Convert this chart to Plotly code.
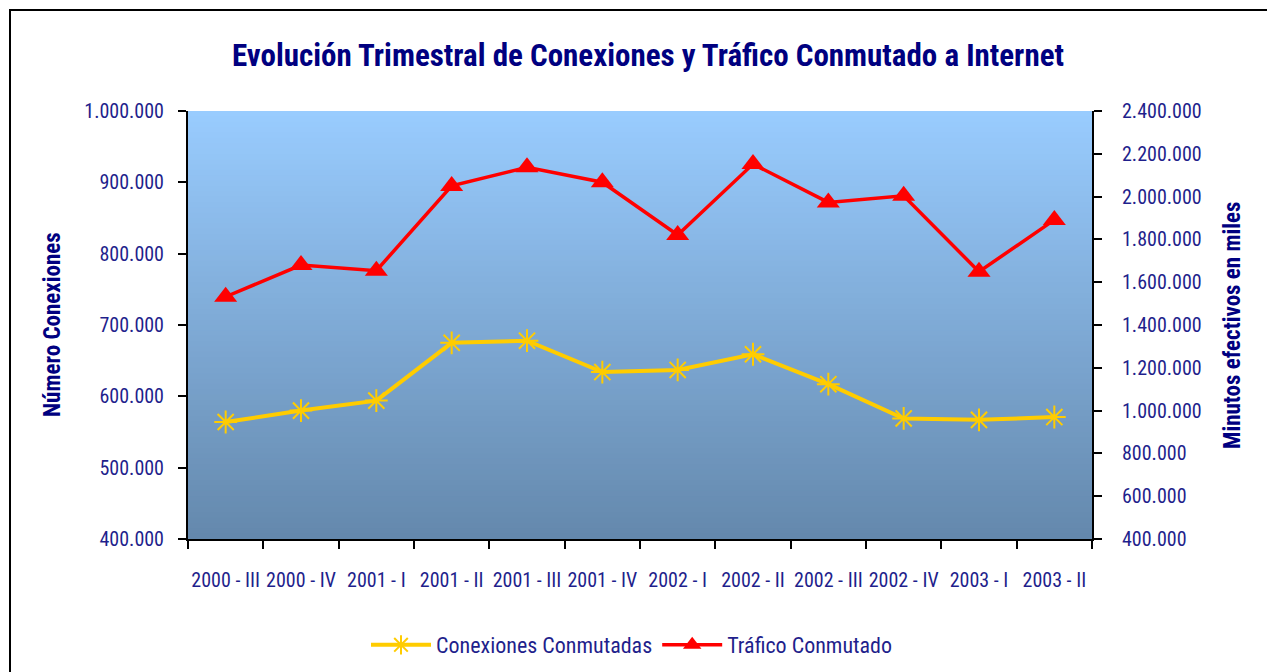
import plotly.graph_objects as go

categories = ["2000 - III", "2000 - IV", "2001 - I", "2001 - II", "2001 - III", "2001 - IV",
              "2002 - I", "2002 - II", "2002 - III", "2002 - IV", "2003 - I", "2003 - II"]
conexiones = [564000, 580000, 594000, 675000, 678000, 634000,
              637000, 659000, 617000, 569000, 567000, 571000]
trafico = [1532000, 1680000, 1654000, 2050000, 2137000, 2067000,
           1821000, 2152000, 1973000, 2004000, 1649000, 1891000]

FONT = "Roboto Condensed, Liberation Sans Narrow, Arial Narrow, sans-serif"
NAVY = "#1f1f8c"
TITLE_NAVY = "#000080"

# page is offset by 8px body margin -> figure is 1267x664 drawn from (8,8)
W, H = 1267, 664
OFF = 8
PL, PR, PT, PB = 188, 1092, 111, 539  # plot area in page pixels

fig = go.Figure()
fig.add_trace(go.Scatter(
    x=categories, y=conexiones, name="Conexiones Conmutadas",
    mode="lines+markers",
    line=dict(color="#FFCC00", width=4),
    marker=dict(symbol="asterisk-open", size=19, color="#FFCC00",
                line=dict(color="#FFCC00", width=2)),
    yaxis="y"))
fig.add_trace(go.Scatter(
    x=categories, y=trafico, name="Tráfico Conmutado",
    mode="lines+markers",
    line=dict(color="#FF0000", width=3.5),
    marker=dict(symbol="triangle-up", size=20, color="#FF0000"),
    yaxis="y2"))

# vertical gradient background of the plot area
shapes = []
N = 80
top = (153, 204, 255)
bot = (100, 136, 172)
for i in range(N):
    t = (i + 0.5) / N
    c = tuple(round(top[k] + (bot[k] - top[k]) * t) for k in range(3))
    shapes.append(dict(type="rect", xref="x domain", yref="y domain",
                       x0=0, x1=1, y0=1 - i / N, y1=1 - (i + 1) / N - 0.002,
                       fillcolor="rgb(%d,%d,%d)" % c, line=dict(width=0),
                       layer="below"))
pw, ph = PR - PL, PB - PT
# outer chart border (left/top visible)
shapes.append(dict(type="rect", xref="paper", yref="paper",
                   x0=(10 - PL) / pw, x1=(1300 - PL) / pw,
                   y0=(PB - 700) / ph, y1=(PB - 10) / ph,
                   line=dict(color="black", width=2), fillcolor="rgba(0,0,0,0)",
                   layer="above"))

axis_common = dict(showline=True, linecolor="black", linewidth=2,
                   ticks="outside", tickcolor="black", tickwidth=2, ticklen=8,
                   showgrid=False, zeroline=False, automargin=False,
                   tickfont=dict(family=FONT, size=20, color=NAVY))

fig.update_layout(
    width=W, height=H,
    margin=dict(l=PL - OFF, r=W - (PR - OFF), t=PT - OFF, b=H - (PB - OFF)),
    paper_bgcolor="white", plot_bgcolor="#7fa8d5",
    separators=",.",
    font=dict(family=FONT, color=NAVY),
    title=dict(text="<b>Evolución Trimestral de Conexiones y Tráfico Conmutado a Internet</b>",
               font=dict(family=FONT, size=31, color=TITLE_NAVY),
               x=(648 - OFF) / W, xanchor="center",
               y=1 - (55 - OFF) / H, yanchor="middle", automargin=False),
    xaxis=dict(type="category", range=[-0.5, 11.5], tickson="boundaries",
               tickangle=0, ticklabelstandoff=22, **axis_common),
    yaxis=dict(range=[400000, 1000000], dtick=100000, tickformat=",d",
               ticklabelstandoff=10, **axis_common),
    yaxis2=dict(range=[400000, 2400000], dtick=200000, tickformat=",d",
                overlaying="y", side="right", ticklabelstandoff=16, **axis_common),
    showlegend=True,
    legend=dict(orientation="h", x=(632 - OFF) / W, xanchor="center", xref="container",
                y=1 - (645 - OFF) / H, yanchor="middle", yref="container",
                font=dict(family=FONT, size=22, color=NAVY),
                bgcolor="rgba(0,0,0,0)", itemwidth=60),
    shapes=shapes,
    annotations=[
        dict(text="<b>Número Conexiones</b>", xref="paper", yref="paper",
             x=(52 - PL) / pw, y=0.5, textangle=-90, showarrow=False,
             xanchor="center", yanchor="middle",
             font=dict(family=FONT, size=23, color=TITLE_NAVY)),
        dict(text="<b>Minutos efectivos en miles</b>", xref="paper", yref="paper",
             x=(1232 - PL) / pw, y=0.5, textangle=-90, showarrow=False,
             xanchor="center", yanchor="middle",
             font=dict(family=FONT, size=23, color=TITLE_NAVY)),
    ],
)

fig.write_html("out.html")
